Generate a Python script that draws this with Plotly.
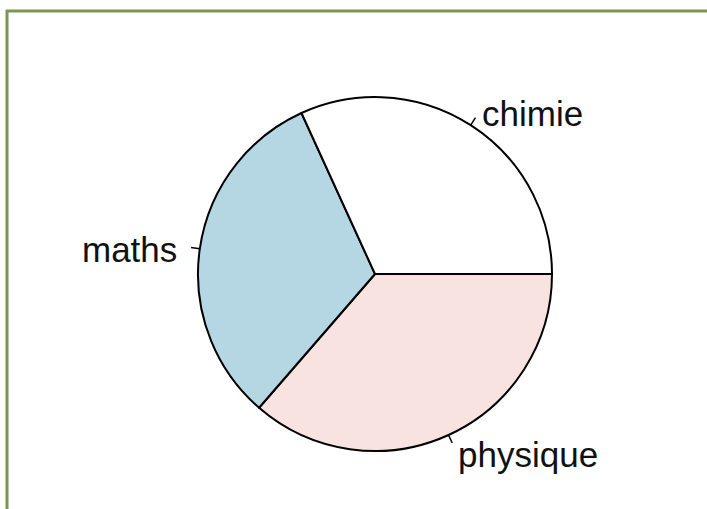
import math
import plotly.graph_objects as go

matieres = ["chimie", "maths", "physique"]
valeurs = [7, 7, 8]
couleurs = ["white", "#b5d7e3", "#f9e3e1"]  # white, lightblue, mistyrose

W, H = 707, 509
cx, cy, r = 375, 274, 177  # centre et rayon du camembert (px)

# R dessine dans le sens trigo depuis 3 h : on inverse l'ordre et on tourne en sens horaire
fig = go.Figure(go.Pie(
    labels=matieres[::-1], values=valeurs[::-1], sort=False,
    direction="clockwise", rotation=90,
    marker=dict(colors=couleurs[::-1], line=dict(color="black", width=2)),
    textinfo="none", hoverinfo="label+value", showlegend=False,
    domain=dict(x=[(cx - r) / W, (cx + r) / W], y=[1 - (cy + r) / H, 1 - (cy - r) / H]),
))

# étiquettes façon pie() de R : trait de 1 a 1.05 r, texte a 1.1 r
total = sum(valeurs)
cumul = 0
for nom, v in zip(matieres, valeurs):
    a = 2 * math.pi * (cumul + v / 2) / total
    cumul += v
    c, s = math.cos(a), math.sin(a)
    fig.add_shape(type="line", xref="paper", yref="paper",
                  x0=(cx + r * c) / W, y0=1 - (cy - r * s) / H,
                  x1=(cx + 1.05 * r * c) / W, y1=1 - (cy - 1.05 * r * s) / H,
                  line=dict(color="black", width=1.5))
    fig.add_annotation(x=(cx + 1.1 * r * c) / W, y=1 - (cy - 1.1 * r * s) / H,
                       xref="paper", yref="paper", text=nom, showarrow=False,
                       xanchor="left" if c >= 0 else "right", yanchor="middle",
                       xshift=0 if c >= 0 else -3, yshift=-3,
                       font=dict(family="Liberation Sans, Arial", size=35, color="#111111"))

# cadre vert
vert = "#7d9552"
fig.add_shape(type="line", xref="paper", yref="paper", x0=6 / W, x1=1, y0=1 - 11 / H, y1=1 - 11 / H,
              line=dict(color=vert, width=3))
fig.add_shape(type="line", xref="paper", yref="paper", x0=7 / W, x1=7 / W, y0=1 - 10 / H, y1=0,
              line=dict(color=vert, width=3))

fig.update_layout(width=W, height=H, margin=dict(l=0, r=0, t=0, b=0),
                  paper_bgcolor="white", plot_bgcolor="white")
fig.write_html("out.html", config={"displayModeBar": False},
               post_script="document.body.style.margin = '0';")
